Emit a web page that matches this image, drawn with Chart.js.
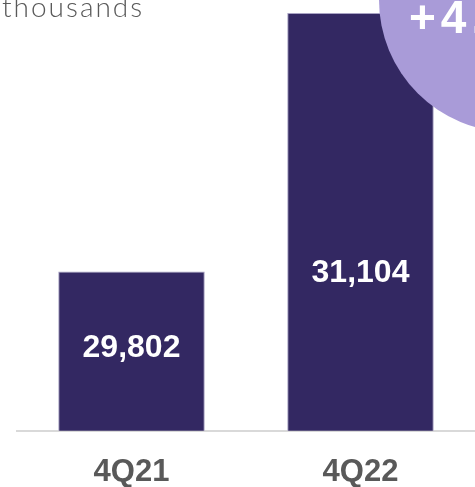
<!DOCTYPE html>
<html>
<head>
<meta charset="utf-8">
<script src="https://cdn.jsdelivr.net/npm/chart.js@4"></script>
<style>
  html, body { margin: 0; padding: 0; background: #ffffff; overflow: hidden; }
  #wrap { position: relative; width: 475px; height: 487px; }
</style>
</head>
<body>
<div id="wrap"><canvas id="c" width="475" height="487"></canvas></div>
<script>
const categories = ['4Q21', '4Q22'];
const values = [29802, 31104];
const valueLabels = ['29,802', '31,104'];
const unitLabel = 'thousands';
const axisMin = 29000;
const axisMax = 31170;

const growth = (values[1] / values[0] - 1) * 100;
const growthText = '+' + growth.toFixed(1) + '%';

const overlayPlugin = {
  id: 'overlay',
  afterDraw(chart) {
    const ctx = chart.ctx;
    const area = chart.chartArea;
    const yScale = chart.scales.y;
    const xScale = chart.scales.x;
    // data labels
    ctx.save();
    ctx.fillStyle = '#ffffff';
    ctx.font = 'bold 32px "Liberation Sans", Arial, sans-serif';
    ctx.textAlign = 'center';
    ctx.textBaseline = 'middle';
    const basePix = yScale.getPixelForValue(axisMin);
    const minPix = yScale.getPixelForValue(Math.min(...values));
    values.forEach((v, i) => {
      const x = xScale.getPixelForValue(i);
      const top = yScale.getPixelForValue(v);
      const mid = (top + basePix) / 2 - 3;
      const y = Math.max(mid, minPix + 2);
      ctx.fillText(valueLabels[i], x, y);
    });
    ctx.restore();
    // growth bubble
    ctx.save();
    ctx.beginPath();
    ctx.arc(area.right + 36, area.top, 132, 0, Math.PI * 2);
    ctx.fillStyle = '#a99bd8';
    ctx.fill();
    ctx.fillStyle = '#ffffff';
    ctx.font = 'bold 46px "Liberation Sans", Arial, sans-serif';
    ctx.letterSpacing = '5px';
    ctx.textAlign = 'left';
    ctx.textBaseline = 'alphabetic';
    ctx.fillText(growthText, 409, 33);
    ctx.restore();
    // unit label
    ctx.save();
    ctx.fillStyle = '#595959';
    ctx.font = '300 28px Lato, "DejaVu Sans", sans-serif';
    ctx.letterSpacing = '2px';
    ctx.textAlign = 'left';
    ctx.textBaseline = 'alphabetic';
    ctx.fillText(unitLabel, 2, 17);
    ctx.restore();
  }
};

new Chart(document.getElementById('c'), {
  type: 'bar',
  data: {
    labels: categories,
    datasets: [{
      data: values,
      backgroundColor: '#332862',
      borderColor: '#a9a3c4',
      borderWidth: 1,
      barPercentage: 0.64,
      categoryPercentage: 1.0
    }]
  },
  options: {
    responsive: false,
    animation: false,
    devicePixelRatio: 1,
    layout: { padding: { left: 17, right: 0, top: 0, bottom: -27 } },
    plugins: { legend: { display: false }, tooltip: { enabled: false } },
    scales: {
      x: {
        grid: { display: false, drawTicks: false },
        border: { display: true, color: '#d9d9d9', width: 2 },
        ticks: {
          color: '#595959',
          padding: 23,
          font: { family: '"Liberation Sans", Arial, sans-serif', size: 31, weight: 'bold' }
        }
      },
      y: {
        display: false,
        min: axisMin,
        max: axisMax
      }
    }
  },
  plugins: [overlayPlugin]
});
</script>
</body>
</html>
